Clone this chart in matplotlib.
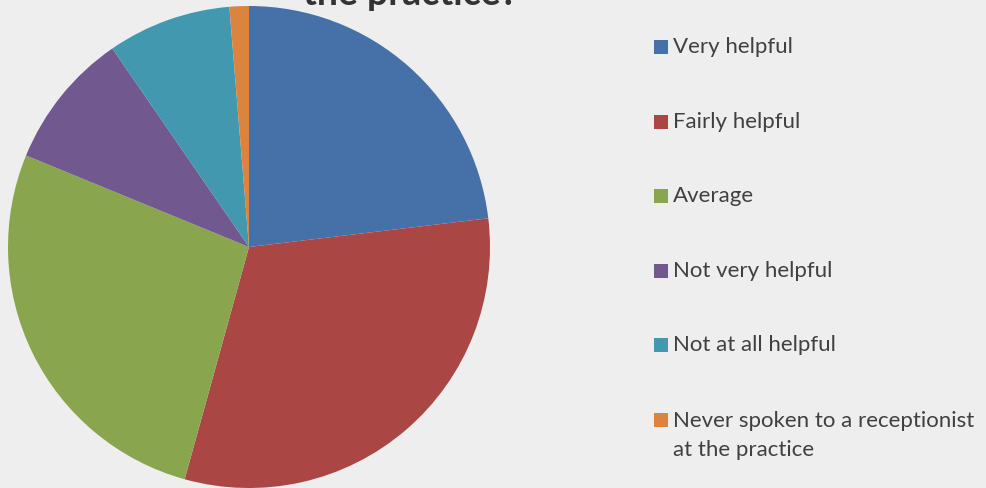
import matplotlib.pyplot as plt
from matplotlib.patches import Rectangle

labels = [
    "Very helpful",
    "Fairly helpful",
    "Average",
    "Not very helpful",
    "Not at all helpful",
    "Never spoken to a receptionist\nat the practice",
]
shares = [23.1, 31.2, 26.9, 9.2, 8.3, 1.3]
colors = ["#4571A8", "#AA4644", "#89A64E", "#71588F", "#4298AF", "#DB843D"]

W, H = 987, 488
bg = "#EEEEEE"
fig = plt.figure(figsize=(W / 100, H / 100), dpi=100, facecolor=bg)

# pie: centre (249, 247) px, radius 241 px
cx, cy, r = 249, 247, 241
ax = fig.add_axes([(cx - r) / W, (H - cy - r) / H, 2 * r / W, 2 * r / H])
ax.set_facecolor(bg)
ax.pie(shares, colors=colors, startangle=90, counterclock=False, radius=1,
       wedgeprops=dict(linewidth=0))
ax.set_xlim(-1, 1)
ax.set_ylim(-1, 1)
ax.set_aspect("equal")
ax.axis("off")

# title, top line is cut off by the image edge
fig.text(410 / W, 1 - 5 / H, "How helpful are receptionists at\nthe practice?",
         ha="center", va="baseline", fontsize=27, fontweight="bold",
         color="#333333", family=["Lato", "DejaVu Sans"], linespacing=1.1)

# legend drawn by hand
row_y = [47, 122, 196, 271, 345, 420]
for label, col, yy in zip(labels, colors, row_y):
    fig.patches.append(Rectangle((654 / W, 1 - (yy + 7) / H), 14 / W, 14 / H,
                                 transform=fig.transFigure, facecolor=col,
                                 edgecolor="none"))
    if "\n" in label:
        fig.text(673 / W, 1 - (yy - 9) / H, label, ha="left", va="top",
                 fontsize=16, color="#404040", family=["Lato", "DejaVu Sans"],
                 linespacing=1.55)
    else:
        fig.text(673 / W, 1 - yy / H, label, ha="left", va="center",
                 fontsize=16, color="#404040", family=["Lato", "DejaVu Sans"])

fig.savefig("out.png", dpi=100, facecolor=bg)
